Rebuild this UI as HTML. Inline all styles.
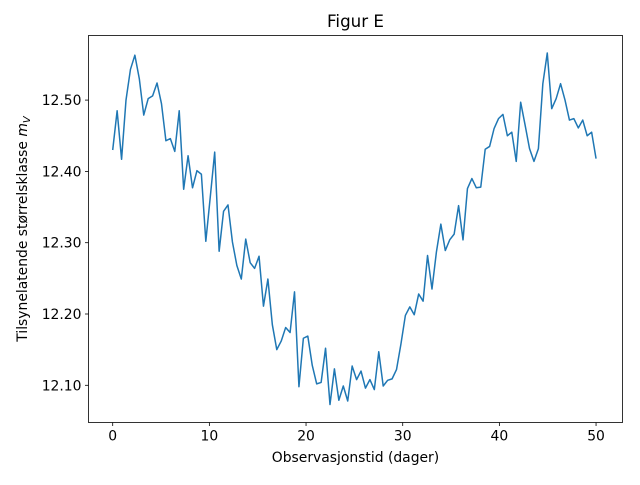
<!DOCTYPE html>
<html><head><meta charset="utf-8"><style>
body{margin:0;background:#fff}
svg text{font-family:"DejaVu Sans","Liberation Sans",sans-serif;fill:#000}
</style></head><body>
<svg id="chart" width="640" height="480" viewBox="0 0 640 480" xmlns="http://www.w3.org/2000/svg">
<rect width="640" height="480" fill="#fff"/>
<g id="plot"></g>
</svg>
<script>
const magnitudes=[12.430,12.485,12.417,12.500,12.543,12.563,12.530,12.479,12.502,12.506,12.524,12.495,12.443,12.446,12.428,12.485,12.375,12.422,12.377,12.401,12.396,12.302,12.364,12.427,12.288,12.344,12.353,12.301,12.268,12.249,12.305,12.272,12.264,12.281,12.211,12.249,12.185,
12.150,12.162,12.181,12.174,12.231,12.098,12.166,12.169,12.128,12.102,12.104,12.152,12.073,12.123,12.079,12.099,12.078,12.127,12.108,12.120,12.096,12.108,12.094,12.147,12.099,12.107,12.109,12.122,12.158,12.198,12.210,12.199,12.228,12.218,12.282,12.235,12.287,12.326,12.289,12.304,
12.312,12.352,12.304,12.376,12.390,12.377,12.378,12.431,12.435,12.460,12.474,12.480,12.450,12.455,12.414,12.497,12.465,12.432,12.414,12.432,12.523,12.566,12.488,12.502,12.523,12.500,12.472,12.474,12.461,12.472,12.450,12.455,12.418];
const tStart=0, tEnd=50;
const xTicks=[0,10,20,30,40,50];
const yTicks=[12.10,12.20,12.30,12.40,12.50];
const yTickLabels=["12.10","12.20","12.30","12.40","12.50"];

const L=88.5,R=622.5,T=35.5,B=422.5;
const xs=v=>112.7+(v-0)*9.667;
const ys=v=>385.3-(v-12.10)*713;
const NS="http://www.w3.org/2000/svg";
const g=document.getElementById('plot');
function mk(tag,attrs){const e=document.createElementNS(NS,tag);for(const k in attrs)e.setAttribute(k,attrs[k]);g.appendChild(e);return e;}

const n=magnitudes.length;
let d="";
magnitudes.forEach((m,i)=>{const t=tStart+(tEnd-tStart)*i/(n-1);d+=(i?"L":"M")+xs(t).toFixed(2)+","+ys(m).toFixed(2);});
const line=mk('path',{d:d,fill:'none',stroke:'#1f77b4','stroke-width':1.5,'stroke-linejoin':'round'});



const frame=mk('rect',{x:L,y:T,width:R-L,height:B-T,fill:'none',stroke:'#000','stroke-width':0.8});



xTicks.forEach(v=>{
  const x=xs(v);
  mk('line',{x1:x,x2:x,y1:B,y2:B+3.5,stroke:'#000','stroke-width':0.8});
  const t=mk('text',{x:x,y:B+18,'text-anchor':'middle','font-size':13.9});
  t.textContent=v;
  
  
});
yTicks.forEach((v,i)=>{
  const y=ys(v);
  mk('line',{x1:L-3.5,x2:L,y1:y,y2:y,stroke:'#000','stroke-width':0.8});
  const t=mk('text',{x:L-7,y:y+5,'text-anchor':'end','font-size':13.9});
  t.textContent=yTickLabels[i];
  
  
});

const title=mk('text',{x:355.5,y:27,'text-anchor':'middle','font-size':16.7});
title.textContent='Figur E';



const xl=mk('text',{x:355.5,y:462,'text-anchor':'middle','font-size':13.9});
xl.textContent='Observasjonstid (dager)';



const yl=mk('text',{x:0,y:0,'text-anchor':'middle','font-size':13.9,transform:'translate(27,229) rotate(-90)'});
yl.innerHTML='Tilsynelatende størrelsklasse <tspan font-style="italic">m</tspan><tspan font-style="italic" font-size="10" dy="3">V</tspan>';


</script>
</body></html>
